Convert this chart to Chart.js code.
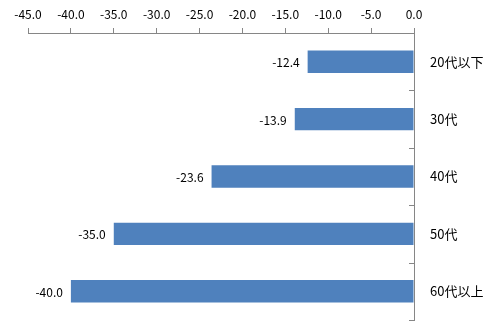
<!DOCTYPE html>
<html>
<head>
<meta charset="utf-8">
<script src="https://cdn.jsdelivr.net/npm/chart.js@4/dist/chart.umd.min.js"></script>
<style>
  html, body { margin: 0; padding: 0; background: #fff; }
  #holder { width: 494px; height: 335px; }
</style>
</head>
<body>
<div id="holder"><canvas id="grafico"></canvas></div>
<script>
// datos
var categorias = ['20代以下', '30代', '40代', '50代', '60代以上'];
var valores = [-12.4, -13.9, -23.6, -35.0, -40.0];
var ejeMin = -45;
var ejeMax = 0;
var paso = 5;

var colorBarra = '#4F81BD';
var colorEje = '#868686';
var fuente = "'Noto Sans CJK JP', 'Noto Sans', sans-serif";

// etiquetas de valor a la izquierda de cada barra
var etiquetasValor = {
  id: 'etiquetasValor',
  afterDatasetsDraw: function(chart) {
    var ctx = chart.ctx;
    var meta = chart.getDatasetMeta(0);
    ctx.save();
    ctx.font = '12px ' + fuente;
    ctx.fillStyle = '#000';
    ctx.textAlign = 'right';
    ctx.textBaseline = 'middle';
    meta.data.forEach(function(bar, i) {
      ctx.fillText(valores[i].toFixed(1), bar.x - 8, bar.y + 1);
    });
    ctx.restore();
  }
};

// marcas del eje vertical (hacia adentro, entre categorias)
var marcasEjeY = {
  id: 'marcasEjeY',
  afterDraw: function(chart) {
    var ctx = chart.ctx;
    var y = chart.scales.y;
    var xPix = chart.scales.x.getPixelForValue(0);
    ctx.save();
    ctx.strokeStyle = colorEje;
    ctx.lineWidth = 1;
    ctx.beginPath();
    for (var i = 0; i < categorias.length; i++) {
      var py = Math.round(y.getPixelForValue(i + 0.5)) + 0.5;
      ctx.moveTo(xPix - 5, py);
      ctx.lineTo(xPix, py);
    }
    ctx.stroke();
    ctx.restore();
  }
};

var config = {
  type: 'bar',
  data: {
    labels: categorias,
    datasets: [{
      data: valores,
      backgroundColor: colorBarra,
      borderWidth: 0,
      categoryPercentage: 1,
      barPercentage: 0.39
    }]
  },
  options: {
    indexAxis: 'y',
    responsive: true,
    maintainAspectRatio: false,
    animation: false,
    layout: { padding: { left: 28, right: 0, top: 0, bottom: 15 } },
    plugins: {
      legend: { display: false },
      tooltip: { enabled: false }
    },
    scales: {
      x: {
        position: 'top',
        min: ejeMin,
        max: ejeMax,
        border: { display: true, color: colorEje, width: 1 },
        grid: {
          drawOnChartArea: false,
          drawTicks: true,
          tickLength: 5,
          color: colorEje
        },
        ticks: {
          stepSize: paso,
          padding: 6,
          color: '#000',
          font: { size: 12, family: fuente },
          maxRotation: 0,
          callback: function(v) { return Number(v).toFixed(1); }
        },
        afterFit: function(scale) {
          scale.height = 33;
          scale.paddingLeft = 0;
          scale.paddingRight = 0;
        }
      },
      y: {
        position: 'right',
        border: { display: true, color: colorEje, width: 1 },
        grid: { display: false, drawTicks: false },
        ticks: {
          padding: 16,
          color: '#000',
          font: { size: 13, family: fuente },
          crossAlign: 'near'
        },
        afterFit: function(scale) {
          scale.width = 80;
          scale.paddingTop = 0;
          scale.paddingBottom = 0;
        }
      }
    }
  },
  plugins: [etiquetasValor, marcasEjeY]
};

//definición del gráfico
if (!!document.getElementById('grafico').getContext('2d')) {
  var chart = new Chart(document.getElementById('grafico').getContext('2d'), config);
}
</script>
</body>
</html>
